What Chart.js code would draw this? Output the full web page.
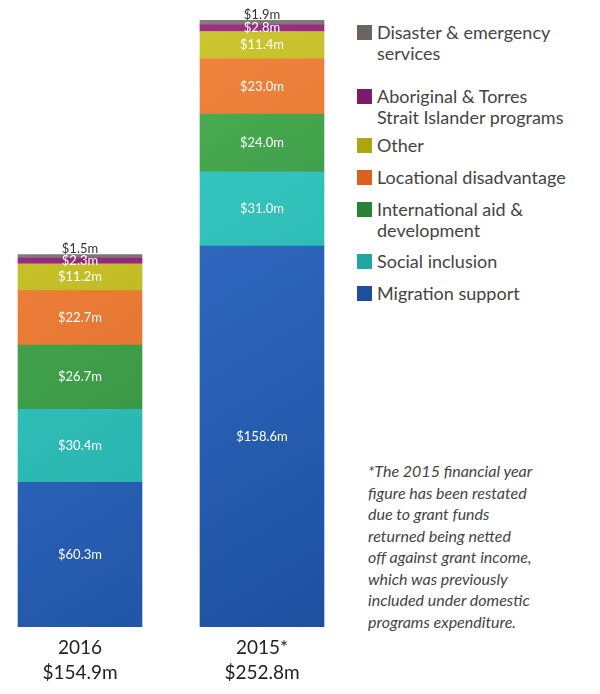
<!DOCTYPE html>
<html>
<head>
<meta charset="utf-8">
<script src="https://cdn.jsdelivr.net/npm/chart.js@4/dist/chart.umd.min.js"></script>
<style>
  body { margin:0; background:#fff; font-family:"Lato","Noto Sans",sans-serif; }
  #wrap { position:relative; width:600px; height:694px; overflow:hidden; }
  #box { position:absolute; left:-11px; top:0; width:364px; height:694px; }
  .leg { position:absolute; left:357px; font-size:18px; color:#444; line-height:21px; }
  .leg span { position:absolute; left:0; top:3px; width:15px; height:15px; }
  .leg div { margin-left:20px; }
  #note { position:absolute; left:368px; top:460px; width:232px; font-style:italic; font-size:16px; line-height:21.5px; color:#444; white-space:nowrap; }
</style>
</head>
<body>
<div id="wrap">
  <div id="box"><canvas id="grafica"></canvas></div>
  <div id="legend"></div>
  <div id="note">*The 2015 financial year<br>figure has been restated<br>due to grant funds<br>returned being netted<br>off against grant income,<br>which was previously<br>included under domestic<br>programs expenditure.</div>
</div>
<script>
// datos
var anios = ["2016", "2015*"];
var totales = ["$154.9m", "$252.8m"];
var series = ["Migration support", "Social inclusion", "International aid & development",
  "Locational disadvantage", "Other", "Aboriginal & Torres Strait Islander programs", "Disaster & emergency services"];
var migracion = [60.3, 158.6];
var inclusion = [30.4, 31.0];
var internacional = [26.7, 24.0];
var locacional = [22.7, 23.0];
var otros = [11.2, 11.4];
var aborigen = [2.3, 2.8];
var desastre = [1.5, 1.9];
var colores = [["#3b7ad6","#1d4f9e"],["#3fd3cc","#1fa7a3"],["#52b85a","#2a8236"],["#f48c45","#d9621f"],
  ["#d2cc34","#aba614"],["#a5308f","#7c1a6c"],["#8a8080","#6b6262"]];

var valores = [migracion, inclusion, internacional, locacional, otros, aborigen, desastre];

// leyenda (de arriba hacia abajo)
var posLeyenda = [[22,"Disaster & emergency<br>services",6],[86,"Aboriginal & Torres<br>Strait Islander programs",5],
  [135,"Other",4],[167,"Locational disadvantage",3],[199,"International aid &amp;<br>development",2],
  [251,"Social inclusion",1],[283,"Migration support",0]];
var htmlLeg = "";
for (let p of posLeyenda) {
  htmlLeg += '<div class="leg" style="top:'+p[0]+'px"><span style="background:'+colores[p[2]][1]+'"></span><div>'+p[1]+'</div></div>';
}
document.getElementById("legend").innerHTML = htmlLeg;

var datasets = [];
for (let i = 0; i < series.length; i++) {
  datasets.push({
    label: series[i],
    data: valores[i],
    backgroundColor: function (ctx) {
      var c = ctx.chart, a = c.chartArea;
      if (!a) return colores[i][0];
      var g = c.ctx.createLinearGradient(a.left, a.top, a.right, a.bottom);
      g.addColorStop(0, colores[i][0]);
      g.addColorStop(1, colores[i][1]);
      return g;
    },
    barThickness: 124,
    borderWidth: 0
  });
}

var etiquetas = {
  id: "etiquetas",
  afterDatasetsDraw: function (chart) {
    var ctx = chart.ctx;
    ctx.save();
    ctx.textAlign = "center";
    chart.data.datasets.forEach(function (ds, i) {
      chart.getDatasetMeta(i).data.forEach(function (bar, j) {
        var txt = "$" + ds.data[j].toFixed(1) + "m";
        ctx.font = "13px Lato, 'Noto Sans', sans-serif";
        if (i == 6) {
          ctx.fillStyle = "#333";
          ctx.textBaseline = "bottom";
          ctx.fillText(txt, bar.x, bar.y + 1);
        } else {
          ctx.fillStyle = "#fff";
          ctx.textBaseline = "middle";
          ctx.fillText(txt, bar.x, (bar.y + bar.base) / 2);
        }
      });
    });
    // etiquetas de categoria
    var meta = chart.getDatasetMeta(0);
    ctx.fillStyle = "#222";
    ctx.textBaseline = "middle";
    ctx.font = "19px Lato, 'Noto Sans', sans-serif";
    meta.data.forEach(function (bar, j) {
      ctx.fillText(anios[j], bar.x, 648);
      ctx.fillText(totales[j], bar.x, 673);
    });
    ctx.restore();
  }
};

var ctx1 = document.getElementById("grafica").getContext("2d");
var myChart = new Chart(ctx1, {
  type: "bar",
  data: { labels: anios, datasets: datasets },
  options: {
    responsive: true,
    maintainAspectRatio: false,
    animation: false,
    layout: { padding: { top: 20, bottom: 67 } },
    plugins: { legend: { display: false }, tooltip: { enabled: false } },
    scales: {
      x: { stacked: true, display: false },
      y: { stacked: true, display: false, min: 0, max: 252.8 }
    }
  },
  plugins: [etiquetas]
});
</script>
</body>
</html>
